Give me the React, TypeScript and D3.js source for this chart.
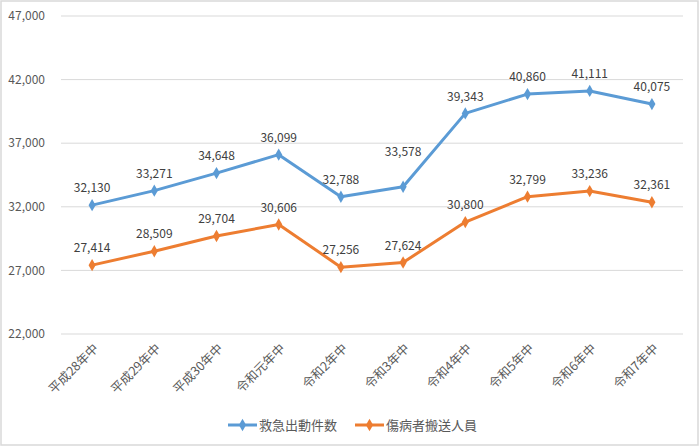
import * as d3 from "d3";

const categories = [
  "平成28年中",
  "平成29年中",
  "平成30年中",
  "令和元年中",
  "令和2年中",
  "令和3年中",
  "令和4年中",
  "令和5年中",
  "令和6年中",
  "令和7年中",
];

const dispatches = [32130, 33271, 34648, 36099, 32788, 33578, 39343, 40860, 41111, 40075];
const transported = [27414, 28509, 29704, 30606, 27256, 27624, 30800, 32799, 33236, 32361];

const yTicks = [22000, 27000, 32000, 37000, 42000, 47000];

const seriesList = [
  { name: "救急出動件数", values: dispatches, color: "#5B9BD5" },
  { name: "傷病者搬送人員", values: transported, color: "#ED7D31" },
];

const WIDTH = 700;
const HEIGHT = 447;
const FONT = "'Noto Sans CJK JP', 'Noto Sans', sans-serif";

// label hand-moved in the original so it clears the rising line
const liftedLabel = { series: "救急出動件数", index: 5 };

export default function App() {
  const margin = { top: 16, right: 17, bottom: 113, left: 61 };
  const innerW = WIDTH - margin.left - margin.right;
  const innerH = HEIGHT - margin.top - margin.bottom;

  const x = d3.scaleBand<string>().domain(categories).range([0, innerW]);
  const y = d3.scaleLinear().domain([22000, 47000]).range([innerH, 0]);
  const fmt = d3.format(",");

  const line = d3
    .line<number>()
    .x((_d, i) => (x(categories[i]) ?? 0) + x.bandwidth() / 2)
    .y((d) => y(d));

  const diamond = d3.symbol().type(d3.symbolDiamond).size(44)();

  return (
    <div style={{ position: "fixed", left: 0, top: 0 }}>
      <svg width={WIDTH} height={HEIGHT} style={{ display: "block", fontFamily: FONT }}>
        <rect x={0} y={0} width={WIDTH} height={HEIGHT} fill="#ffffff" />
        <rect x={1} y={1} width={WIDTH - 3} height={HEIGHT - 3} fill="none" stroke="#d9d9d9" strokeWidth={1.5} />
        <g transform={`translate(${margin.left},${margin.top})`}>
          {/* grid + y labels */}
          {yTicks.map((t) => (
            <g key={t}>
              <line x1={0} x2={innerW} y1={y(t)} y2={y(t)} stroke="#d9d9d9" strokeWidth={1} />
              <text x={-16} y={y(t)} dy="0.35em" textAnchor="end" fontSize={12} fill="#595959">
                {fmt(t)}
              </text>
            </g>
          ))}

          {/* x labels */}
          {categories.map((c) => {
            const cx = (x(c) ?? 0) + x.bandwidth() / 2;
            return (
              <text
                key={c}
                transform={`translate(${cx + 4},${innerH + 12}) rotate(-45)`}
                textAnchor="end"
                dy="0.35em"
                fontSize={12.5}
                fill="#595959"
              >
                {c}
              </text>
            );
          })}

          {/* series */}
          {seriesList.map((s) => (
            <g key={s.name}>
              <path d={line(s.values) ?? ""} fill="none" stroke={s.color} strokeWidth={3} strokeLinejoin="round" />
              {s.values.map((v, i) => {
                const cx = (x(categories[i]) ?? 0) + x.bandwidth() / 2;
                const lift =
                  s.name === liftedLabel.series && i === liftedLabel.index ? 35 : 17;
                return (
                  <g key={i}>
                    <path d={diamond ?? ""} transform={`translate(${cx},${y(v)})`} fill={s.color} />
                    <text x={cx} y={y(v) - lift} dy="0.35em" textAnchor="middle" fontSize={12} fill="#404040">
                      {fmt(v)}
                    </text>
                  </g>
                );
              })}
            </g>
          ))}
        </g>

        {/* legend */}
        <g transform={`translate(0,425)`}>
          {seriesList.map((s, i) => {
            const lx = i === 0 ? 228 : 355;
            return (
              <g key={s.name}>
                <line x1={lx} x2={lx + 29} y1={0} y2={0} stroke={s.color} strokeWidth={3} />
                <path d={diamond ?? ""} transform={`translate(${lx + 14.5},0)`} fill={s.color} />
                <text x={lx + 31} y={0} dy="0.35em" fontSize={13} fill="#595959">
                  {s.name}
                </text>
              </g>
            );
          })}
        </g>
      </svg>
    </div>
  );
}
